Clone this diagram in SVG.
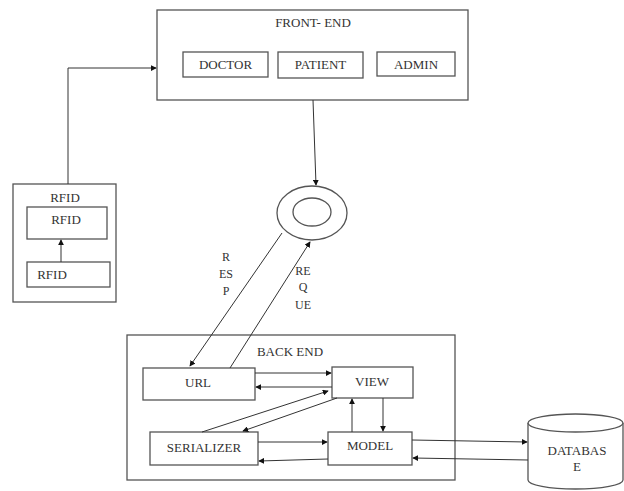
<svg xmlns="http://www.w3.org/2000/svg" width="624" height="491" viewBox="0 0 624 491">
<style>
.box{fill:#fff;stroke:#555;stroke-width:1.3}
.ln{fill:none;stroke:#333;stroke-width:1}
.t{font-family:"Liberation Serif","Times New Roman",serif;font-size:13px;fill:#333;text-anchor:middle}
.ts{font-family:"Liberation Serif","Times New Roman",serif;font-size:12px;fill:#333;text-anchor:middle}
</style>
<defs>
<marker id="ah" viewBox="0 0 8 8" refX="7" refY="4" markerWidth="6" markerHeight="6" orient="auto" markerUnits="userSpaceOnUse">
<path d="M0,0 L8,4 L0,8 z" fill="#111"/>
</marker>
</defs>
<rect width="624" height="491" fill="#fff"/>

<g id="frontend">
<rect class="box" x="157" y="10" width="311" height="90"/>
<text class="t" x="313" y="27">FRONT- END</text>
</g>
<g id="doctor">
<rect class="box" x="183" y="52" width="85" height="25"/>
<text class="t" x="225.5" y="69">DOCTOR</text>
</g>
<g id="patient">
<rect class="box" x="278" y="52" width="85" height="26"/>
<text class="t" x="320.5" y="69">PATIENT</text>
</g>
<g id="admin">
<rect class="box" x="377" y="52" width="78" height="24"/>
<text class="t" x="416" y="69">ADMIN</text>
</g>

<g id="rfid-group">
<rect class="box" x="13" y="184" width="103" height="118"/>
<text class="t" x="65" y="202">RFID</text>
</g>
<g id="rfid-reader">
<rect class="box" x="27" y="207" width="80" height="32"/>
<text class="t" x="66" y="224">RFID</text>
</g>
<g id="rfid-tag">
<rect class="box" x="27" y="262" width="83" height="25"/>
<text class="t" x="52" y="279">RFID</text>
</g>

<g id="router">
<ellipse cx="312" cy="213" rx="35" ry="27" fill="#fff" stroke="#555" stroke-width="1.3"/>
<ellipse cx="312" cy="212" rx="19" ry="14" fill="#fff" stroke="#555" stroke-width="1.3"/>
</g>

<g id="backend">
<rect class="box" x="127" y="335" width="328" height="145"/>
<text class="t" x="290" y="356">BACK END</text>
</g>
<g id="url">
<rect class="box" x="143" y="368" width="112" height="32"/>
<text class="t" x="198" y="387">URL</text>
</g>
<g id="view">
<rect class="box" x="332" y="367" width="81" height="31"/>
<text class="t" x="372" y="386">VIEW</text>
</g>
<g id="serializer">
<rect class="box" x="150" y="432" width="108" height="33"/>
<text class="t" x="204" y="452">SERIALIZER</text>
</g>
<g id="model">
<rect class="box" x="328" y="432" width="84" height="33"/>
<text class="t" x="370" y="450">MODEL</text>
</g>
<g id="database">
<path d="M528,423 L528,480 A47.5,9 0 0 0 623,480 L623,423" fill="#fff" stroke="#555" stroke-width="1.3"/>
<ellipse cx="575.5" cy="423" rx="47.5" ry="9" fill="#fff" stroke="#555" stroke-width="1.3"/>
<text class="t" x="577" y="455">DATABAS</text>
<text class="t" x="577" y="471">E</text>
</g>

<g id="connectors">
<polyline class="ln" points="68,184 68,68 156,68" marker-end="url(#ah)"/>
<line class="ln" x1="61" y1="262" x2="61" y2="240" marker-end="url(#ah)"/>
<line class="ln" x1="313" y1="100" x2="316" y2="185" marker-end="url(#ah)"/>
<line class="ln" x1="282" y1="233" x2="190" y2="366" marker-end="url(#ah)"/>
<line class="ln" x1="230" y1="368" x2="310" y2="242" marker-end="url(#ah)"/>
<line class="ln" x1="255" y1="373" x2="331" y2="373" marker-end="url(#ah)"/>
<line class="ln" x1="332" y1="387" x2="256" y2="387" marker-end="url(#ah)"/>
<line class="ln" x1="202" y1="432" x2="328" y2="391" marker-end="url(#ah)"/>
<line class="ln" x1="337" y1="398" x2="243" y2="431" marker-end="url(#ah)"/>
<line class="ln" x1="352" y1="432" x2="352" y2="399" marker-end="url(#ah)"/>
<line class="ln" x1="383" y1="398" x2="383" y2="431" marker-end="url(#ah)"/>
<line class="ln" x1="258" y1="442" x2="327" y2="442" marker-end="url(#ah)"/>
<line class="ln" x1="328" y1="459" x2="259" y2="461" marker-end="url(#ah)"/>
<line class="ln" x1="412" y1="440" x2="527" y2="442" marker-end="url(#ah)"/>
<line class="ln" x1="528" y1="460" x2="413" y2="458" marker-end="url(#ah)"/>
</g>

<g id="labels">
<text class="ts" x="226" y="261">R</text>
<text class="ts" x="226" y="278">ES</text>
<text class="ts" x="226" y="295">P</text>
<text class="ts" x="303" y="275">RE</text>
<text class="ts" x="303" y="291">Q</text>
<text class="ts" x="303" y="309">UE</text>
</g>
</svg>
